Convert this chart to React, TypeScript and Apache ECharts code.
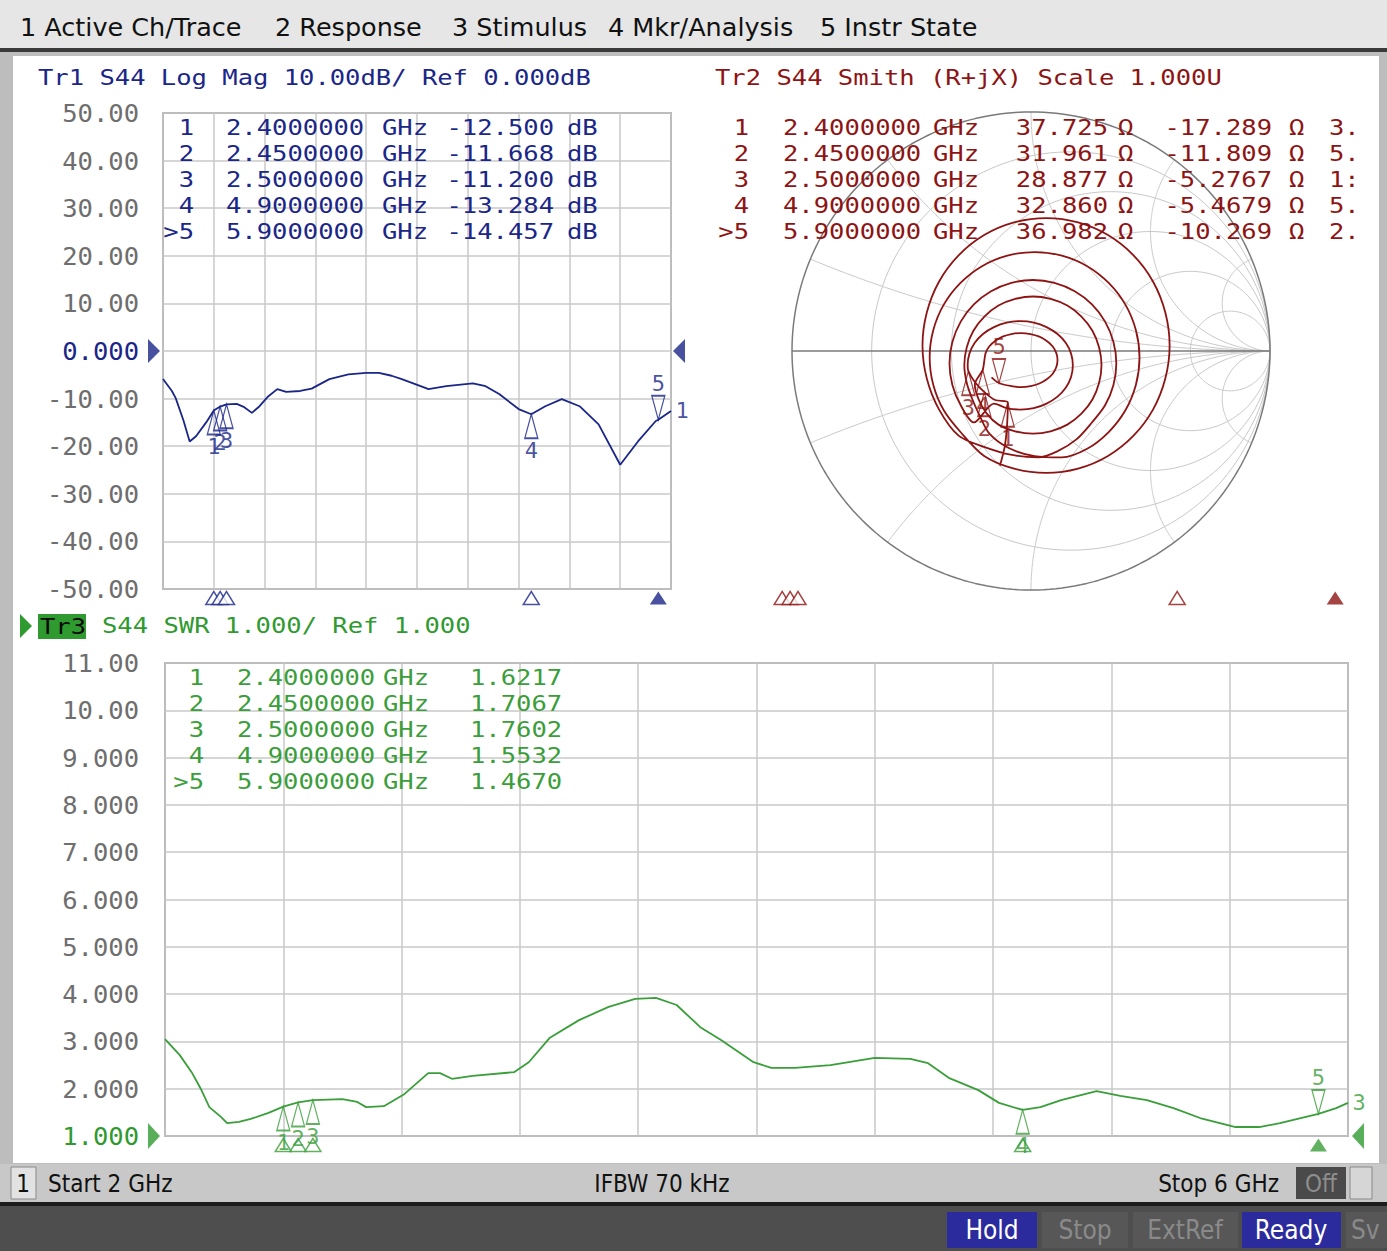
import React, { useEffect, useRef } from "react";
import * as echarts from "echarts";

const MONO = '"DejaVu Sans Mono", "Liberation Mono", monospace';
const SANS = '"DejaVu Sans", Verdana, sans-serif';
const COND = '"DejaVu Sans Condensed", "DejaVu Sans", sans-serif';

const BLUE = "#1a2688";
const RED = "#8e1414";
const GREEN = "#2f9a2f";
const LGREEN = "#3a9e3a";
const GRAY_TXT = "#6e6e6e";
const GRID_C = "#c8c8c8";
const BORDER_C = "#7c7c7c";

// ---- Tr1: S44 Log Mag (dB) vs frequency (GHz)
const lmFreq = [2.0, 2.07, 2.1, 2.16, 2.21, 2.26, 2.34, 2.4, 2.45, 2.5, 2.58, 2.64, 2.7, 2.76, 2.83, 2.9, 2.97, 3.08, 3.17, 3.31, 3.46, 3.6, 3.7, 3.8, 3.88, 4.06, 4.09, 4.23, 4.44, 4.54, 4.65, 4.8, 4.9, 5.01, 5.14, 5.28, 5.43, 5.6, 5.74, 5.88, 5.9, 6.0];
const lmDb = [-5.9, -8.4, -9.9, -14.5, -19.0, -17.9, -15.0, -12.5, -11.67, -11.2, -11.1, -11.8, -13.0, -11.6, -9.5, -8.0, -8.6, -8.4, -7.9, -5.9, -4.9, -4.6, -4.6, -5.2, -5.9, -7.7, -8.0, -7.4, -6.8, -7.4, -9.1, -12.2, -13.28, -11.6, -10.1, -11.6, -15.4, -23.9, -19.0, -14.7, -14.46, -12.6];

// ---- Tr3: S44 SWR vs frequency (GHz)
const swrFreq = [2.0, 2.05, 2.09, 2.12, 2.15, 2.19, 2.21, 2.25, 2.29, 2.35, 2.4, 2.45, 2.5, 2.6, 2.65, 2.68, 2.74, 2.81, 2.89, 2.93, 2.97, 3.04, 3.18, 3.23, 3.3, 3.4, 3.5, 3.59, 3.66, 3.73, 3.81, 3.88, 3.99, 4.05, 4.13, 4.25, 4.4, 4.52, 4.58, 4.65, 4.75, 4.82, 4.9, 4.96, 5.03, 5.15, 5.23, 5.32, 5.41, 5.5, 5.62, 5.7, 5.77, 5.84, 5.9, 5.96, 6.0];
const swrVal = [3.05, 2.71, 2.35, 2.01, 1.61, 1.4, 1.27, 1.3, 1.36, 1.49, 1.62, 1.71, 1.76, 1.78, 1.72, 1.61, 1.63, 1.89, 2.33, 2.33, 2.21, 2.27, 2.35, 2.56, 3.07, 3.45, 3.73, 3.9, 3.92, 3.77, 3.3, 3.03, 2.56, 2.44, 2.44, 2.5, 2.65, 2.63, 2.54, 2.23, 1.97, 1.7, 1.55, 1.61, 1.76, 1.95, 1.85, 1.76, 1.59, 1.38, 1.19, 1.19, 1.27, 1.38, 1.47, 1.59, 1.7];

const smGamma: number[][] = [
  [-0.13, -0.48], [-0.11, -0.4], [-0.1, -0.31],
  [-0.097, -0.216], [-0.15, -0.205], [-0.195, -0.172], [-0.235, -0.13], [-0.262, -0.084], [-0.265, -0.06],
  [-0.258, -0.012], [-0.236, 0.033], [-0.201, 0.071], [-0.155, 0.1], [-0.102, 0.119], [-0.045, 0.125],
  [0.012, 0.119], [0.065, 0.1], [0.111, 0.071], [0.146, 0.033], [0.168, -0.012], [0.175, -0.06],
  [0.168, -0.108], [0.146, -0.153], [0.111, -0.191], [0.065, -0.22], [0.012, -0.239], [-0.045, -0.245],
  [-0.102, -0.239], [-0.155, -0.22],
  [-0.239, -0.299], [-0.294, -0.227], [-0.329, -0.142], [-0.341, -0.052], [-0.329, 0.038], [-0.294, 0.123],
  [-0.239, 0.195], [-0.167, 0.25], [-0.082, 0.285], [0.008, 0.297], [0.098, 0.285], [0.183, 0.25],
  [0.255, 0.195], [0.31, 0.123], [0.345, 0.038], [0.357, -0.052], [0.345, -0.142], [0.31, -0.227],
  [0.255, -0.299], [0.19, -0.37], [0.11, -0.42], [0.03, -0.445], [-0.08, -0.435], [-0.2, -0.4],
  [-0.303, -0.354], [-0.385, -0.244], [-0.436, -0.115], [-0.454, 0.023], [-0.436, 0.161], [-0.385, 0.29],
  [-0.303, 0.4], [-0.196, 0.485], [-0.071, 0.538], [0.063, 0.556], [0.197, 0.538], [0.322, 0.485],
  [0.429, 0.4], [0.511, 0.29], [0.562, 0.161], [0.58, 0.023], [0.562, -0.115], [0.511, -0.244],
  [0.429, -0.354], [0.322, -0.439], [0.197, -0.492], [0.063, -0.51], [-0.071, -0.492], [-0.196, -0.439],
  [-0.295, -0.339], [-0.365, -0.248], [-0.409, -0.141], [-0.424, -0.027], [-0.409, 0.087], [-0.365, 0.194],
  [-0.295, 0.285], [-0.205, 0.355], [-0.099, 0.399], [0.015, 0.414], [0.129, 0.399], [0.235, 0.355],
  [0.325, 0.285], [0.395, 0.194], [0.439, 0.087], [0.454, -0.027], [0.439, -0.141], [0.395, -0.248],
  [0.325, -0.339], [0.235, -0.409], [0.129, -0.445], [0.015, -0.44], [-0.095, -0.405], [-0.175, -0.345],
  [-0.215, -0.27], [-0.245, -0.203], [-0.269, -0.133], [-0.279, -0.059], [-0.269, 0.015], [-0.241, 0.085],
  [-0.195, 0.144], [-0.136, 0.19], [-0.066, 0.218], [0.008, 0.228], [0.082, 0.218], [0.152, 0.19],
  [0.211, 0.144], [0.257, 0.085], [0.285, 0.015], [0.295, -0.059], [0.285, -0.133], [0.257, -0.203],
  [0.211, -0.262], [0.152, -0.308], [0.082, -0.336], [0.008, -0.346], [-0.066, -0.336], [-0.136, -0.308],
  [-0.185, -0.262], [-0.22, -0.2], [-0.235, -0.14],
  [-0.202, -0.079],
  [-0.195, -0.038], [-0.19, -0.009], [-0.175, 0.019], [-0.15, 0.042], [-0.119, 0.06], [-0.082, 0.071],
  [-0.042, 0.075], [-0.002, 0.071], [0.035, 0.06], [0.066, 0.042], [0.091, 0.019], [0.106, -0.009],
  [0.111, -0.038], [0.106, -0.067], [0.091, -0.095], [0.066, -0.118], [0.035, -0.136], [-0.002, -0.147],
  [-0.042, -0.151], [-0.082, -0.147], [-0.134, -0.134], [-0.165, -0.11],
];

// ---- Markers
const mkLabels = ["1", "2", "3", "4", ">5"];
const mkFreqTxt = ["2.4000000", "2.4500000", "2.5000000", "4.9000000", "5.9000000"];
const mkFreq = [2.4, 2.45, 2.5, 4.9, 5.9];
const mkDb = [-12.5, -11.668, -11.2, -13.284, -14.457];
const mkDbTxt = ["-12.500", "-11.668", "-11.200", "-13.284", "-14.457"];
const mkR = [37.725, 31.961, 28.877, 32.86, 36.982];
const mkRTxt = ["37.725", "31.961", "28.877", "32.860", "36.982"];
const mkX = [-17.289, -11.809, -5.2767, -5.4679, -10.269];
const mkXTxt = ["-17.289", "-11.809", "-5.2767", "-5.4679", "-10.269"];
const mkCut = ["3.", "5.", "1:", "5.", "2."];
const mkSwr = [1.6217, 1.7067, 1.7602, 1.5532, 1.467];
const mkSwrTxt = ["1.6217", "1.7067", "1.7602", "1.5532", "1.4670"];

const menuItems = ["1 Active Ch/Trace", "2 Response", "3 Stimulus", "4 Mkr/Analysis", "5 Instr State"];
const menuX = [20, 275, 452, 608, 820];

const Z0 = 50;
function gammaOf(r: number, x: number): [number, number] {
  const d = (r + 1) * (r + 1) + x * x;
  return [(r * r + x * x - 1) / d, (2 * x) / d];
}

const UP = "path://M7,0L14,24L0,24Z";
const DOWN = "path://M0,0L14,0L7,24Z";

function markerSeries(xi: number, yi: number, pts: number[][], color: string) {
  const lab = { show: true, formatter: "{b}", color, fontFamily: MONO, fontSize: 22 };
  return [
    {
      type: "scatter", xAxisIndex: xi, yAxisIndex: yi, silent: true, z: 6, clip: false,
      data: pts.slice(0, 4).map((p, i) => ({ value: p, name: String(i + 1) })),
      symbol: UP, symbolSize: [13, 24], symbolOffset: [0, 12],
      itemStyle: { color: "rgba(255,255,255,0)", borderColor: color, borderWidth: 1.5 },
      label: { ...lab, position: "bottom", distance: 0 },
    },
    {
      type: "scatter", xAxisIndex: xi, yAxisIndex: yi, silent: true, z: 6, clip: false,
      data: [{ value: pts[4], name: "5" }],
      symbol: DOWN, symbolSize: [13, 24], symbolOffset: [0, -12],
      itemStyle: { color: "rgba(255,255,255,0)", borderColor: color, borderWidth: 1.5 },
      label: { ...lab, position: "top", distance: 0 },
    },
  ];
}

function indicatorSeries(xi: number, yi: number, color: string) {
  return [
    {
      type: "scatter", xAxisIndex: xi, yAxisIndex: yi, silent: true,
      data: mkFreq.slice(0, 4).map((f) => [f, 0.5]),
      symbol: "triangle", symbolSize: [16, 13],
      itemStyle: { color: "#ffffff", borderColor: color, borderWidth: 1.5 },
    },
    {
      type: "scatter", xAxisIndex: xi, yAxisIndex: yi, silent: true,
      data: [[mkFreq[4], 0.5]],
      symbol: "triangle", symbolSize: [17, 13],
      itemStyle: { color },
    },
  ];
}

function refSeries(xi: number, yi: number, yv: number, color: string, h: number, offL: number, offR: number) {
  return [
    {
      type: "scatter", xAxisIndex: xi, yAxisIndex: yi, silent: true, clip: false,
      data: [[2, yv]], symbol: "path://M0,0L12,12L0,24Z", symbolSize: [12, h], symbolOffset: [offL, 0],
      itemStyle: { color },
    },
    {
      type: "scatter", xAxisIndex: xi, yAxisIndex: yi, silent: true, clip: false,
      data: [[6, yv]], symbol: "path://M12,0L0,12L12,24Z", symbolSize: [12, h], symbolOffset: [offR, 0],
      itemStyle: { color },
    },
  ];
}

function endLabel(xi: number, yi: number, p: number[], text: string, color: string) {
  return {
    type: "scatter", xAxisIndex: xi, yAxisIndex: yi, silent: true, clip: false,
    data: [{ value: p, name: text }], symbolSize: 1, itemStyle: { color: "rgba(0,0,0,0)" },
    label: { show: true, position: "right", distance: 4, formatter: "{b}", color, fontFamily: MONO, fontSize: 22 },
  };
}

function smithGridSeries() {
  const out: any[] = [];
  const mk = (pts: number[][], color: string, width: number) => ({
    type: "line", xAxisIndex: 1, yAxisIndex: 1, data: pts, symbol: "none", silent: true, z: 1,
    lineStyle: { color, width }, clip: false,
  });
  [0.2, 0.5, 1, 2, 5].forEach((r) => {
    const c = r / (r + 1), rad = 1 / (r + 1);
    const pts: number[][] = [];
    for (let k = 0; k <= 180; k++) {
      const a = (k / 180) * 2 * Math.PI;
      pts.push([c + rad * Math.cos(a), rad * Math.sin(a)]);
    }
    out.push(mk(pts, GRID_C, 1));
  });
  [0.2, 0.5, 1, 2, 5, -0.2, -0.5, -1, -2, -5].forEach((x) => {
    const pts: number[][] = [];
    for (let k = 0; k <= 200; k++) {
      const s = (k / 200) * 0.995;
      pts.push(gammaOf(s / (1 - s), x));
    }
    pts.push([1, 0]);
    out.push(mk(pts, GRID_C, 1));
  });
  const circ: number[][] = [];
  for (let k = 0; k <= 240; k++) {
    const a = (k / 240) * 2 * Math.PI;
    circ.push([Math.cos(a), Math.sin(a)]);
  }
  out.push(mk(circ, "#7a7a7a", 1.5));
  out.push(mk([[-1, 0], [1, 0]], "#7a7a7a", 1.5));
  return out;
}

function App() {
  const ref = useRef<HTMLDivElement>(null);
  useEffect(() => {
    if (!ref.current) return;
    const chart = echarts.init(ref.current, undefined, { renderer: "svg" });

    const lmPts = lmFreq.map((f, i) => [f, lmDb[i]]);
    const swrPts = swrFreq.map((f, i) => [f, swrVal[i]]);
    const mkLM = mkFreq.map((f, i) => [f, mkDb[i]]);
    const mkSW = mkFreq.map((f, i) => [f, mkSwr[i]]);
    const mkSM = mkR.map((r, i) => gammaOf(r / Z0, mkX[i] / Z0));

    const hiddenX = (g: number) => ({ gridIndex: g, type: "value", min: 2, max: 6, show: false });
    const hiddenY = (g: number) => ({ gridIndex: g, type: "value", min: 0, max: 1, show: false });
    const split = { show: true, lineStyle: { color: GRID_C, width: 1.5 } };

    const T = (x: number, y: number, text: string, fill: string, font: string, align = "left", z = 50, sx = 1) => ({
      type: "text", x, y, z, silent: true, scaleX: sx,
      style: { text, fill, font, textAlign: align, align, textVerticalAlign: "middle", verticalAlign: "middle" },
    });
    const R = (x: number, y: number, w: number, h: number, fill: string, stroke?: string, z = -50) => ({
      type: "rect", z, silent: true, shape: { x, y, width: w, height: h },
      style: { fill, stroke: stroke || null, lineWidth: stroke ? 1 : 0 },
    });

    const FM = `22px ${MONO}`;
    const SX = 1.16;
    const M = (x: number, y: number, text: string, fill: string, align = "left") => T(x, y, text, fill, FM, align, 50, SX);
    const rowsTop = [128, 154, 180, 206, 232];
    const rowsBot = [678, 704, 730, 756, 782];

    const graphic: any[] = [
      R(0, 0, 1387, 1251, "#bdbdbd", undefined, -60),
      R(0, 0, 1387, 48, "#e6e6e6"),
      R(0, 48, 1387, 4, "#3a3a3a"),
      R(13, 56, 1366, 1107, "#ffffff"),
      R(0, 1164, 1387, 38, "#c8c8c8"),
      R(11, 1167, 25, 32, "#e2e2e2", "#8a8a8a"),
      R(1296, 1167, 50, 32, "#4a4a4a"),
      R(1350, 1167, 22, 32, "#d6d6d6", "#8a8a8a"),
      R(0, 1202, 1387, 4, "#1c1c1c"),
      R(0, 1206, 1387, 45, "#4e4e4e"),
      R(947, 1212, 90, 36, "#2b2b9e"),
      R(1042, 1212, 86, 36, "#575757"),
      R(1133, 1212, 105, 36, "#575757"),
      R(1242, 1212, 99, 36, "#2b2b9e"),
      R(1346, 1212, 45, 36, "#575757"),
      R(38, 614, 48, 25, "#2f9a2f", undefined, 40),
      { type: "polygon", z: 40, silent: true, shape: { points: [[20, 614], [32, 626], [20, 638]] }, style: { fill: GREEN } },
    ];
    menuItems.forEach((m, i) => graphic.push(T(menuX[i], 27, m, "#111111", `25.5px ${SANS}`)));

    graphic.push(M(38, 78, "Tr1 S44 Log Mag 10.00dB/ Ref 0.000dB", BLUE));
    graphic.push(M(715, 78, "Tr2 S44 Smith (R+jX) Scale 1.000U", RED));
    graphic.push(T(40, 627, "Tr3", "#0a0a0a", FM, "left", 45, SX));
    graphic.push(M(102, 626, "S44 SWR 1.000/ Ref 1.000", GREEN));

    for (let i = 0; i < 5; i++) {
      const y = rowsTop[i];
      graphic.push(M(194, y, mkLabels[i], BLUE, "right"));
      graphic.push(M(226, y, mkFreqTxt[i], BLUE));
      graphic.push(M(382, y, "GHz", BLUE));
      graphic.push(M(554, y, mkDbTxt[i], BLUE, "right"));
      graphic.push(M(567, y, "dB", BLUE));

      graphic.push(M(749, y, mkLabels[i], RED, "right"));
      graphic.push(M(783, y, mkFreqTxt[i], RED));
      graphic.push(M(933, y, "GHz", RED));
      graphic.push(M(1108, y, mkRTxt[i], RED, "right"));
      graphic.push(M(1118, y, "\u03a9", RED));
      graphic.push(M(1272, y, mkXTxt[i], RED, "right"));
      graphic.push(M(1289, y, "\u03a9", RED));
      graphic.push(M(1329, y, mkCut[i], RED));

      const yb = rowsBot[i];
      graphic.push(M(204, yb, mkLabels[i], LGREEN, "right"));
      graphic.push(M(237, yb, mkFreqTxt[i], LGREEN));
      graphic.push(M(383, yb, "GHz", LGREEN));
      graphic.push(M(470, yb, mkSwrTxt[i], LGREEN));
    }

    const FS = `24px ${COND}`;
    graphic.push(T(23, 1184, "1", "#111111", FS, "center"));
    graphic.push(T(48, 1184, "Start 2 GHz", "#111111", FS));
    graphic.push(T(662, 1184, "IFBW 70 kHz", "#111111", FS, "center"));
    graphic.push(T(1279, 1184, "Stop 6 GHz", "#111111", FS, "right"));
    graphic.push(T(1321, 1184, "Off", "#8e8e8e", FS, "center"));
    const FB = `26px ${COND}`;
    graphic.push(T(992, 1230, "Hold", "#ffffff", FB, "center"));
    graphic.push(T(1085, 1230, "Stop", "#8a8a8a", FB, "center"));
    graphic.push(T(1185, 1230, "ExtRef", "#8a8a8a", FB, "center"));
    graphic.push(T(1291, 1230, "Ready", "#ffffff", FB, "center"));
    graphic.push(T(1351, 1230, "Sv", "#8a8a8a", FB));

    const option: any = {
      animation: false,
      backgroundColor: "#bdbdbd",
      grid: [
        { left: 163, top: 113, width: 508, height: 476, show: true, borderColor: BORDER_C, borderWidth: 1.5, backgroundColor: "rgba(0,0,0,0)" },
        { left: 792, top: 112, width: 478, height: 478 },
        { left: 165, top: 663, width: 1183, height: 473, show: true, borderColor: BORDER_C, borderWidth: 1.5, backgroundColor: "rgba(0,0,0,0)" },
        { left: 163, top: 590, width: 508, height: 16 },
        { left: 719, top: 590, width: 632, height: 16 },
        { left: 165, top: 1137, width: 1183, height: 16 },
      ],
      xAxis: [
        { gridIndex: 0, type: "value", min: 2, max: 6, interval: 0.4, axisLabel: { show: false }, axisTick: { show: false }, axisLine: { show: false }, splitLine: split },
        { gridIndex: 1, type: "value", min: -1, max: 1, show: false },
        { gridIndex: 2, type: "value", min: 2, max: 6, interval: 0.4, axisLabel: { show: false }, axisTick: { show: false }, axisLine: { show: false }, splitLine: split },
        hiddenX(3), hiddenX(4), hiddenX(5),
      ],
      yAxis: [
        {
          gridIndex: 0, type: "value", min: -50, max: 50, interval: 10,
          axisLine: { show: false }, axisTick: { show: false }, splitLine: split,
          axisLabel: {
            margin: 24, fontFamily: MONO, fontSize: 25.5,
            formatter: (v: number) => (v === 0 ? "0.000" : v.toFixed(2)),
            color: (v: any) => (Number(v) === 0 ? BLUE : GRAY_TXT),
          },
        },
        { gridIndex: 1, type: "value", min: -1, max: 1, show: false },
        {
          gridIndex: 2, type: "value", min: 1, max: 11, interval: 1,
          axisLine: { show: false }, axisTick: { show: false }, splitLine: split,
          axisLabel: {
            margin: 26, fontFamily: MONO, fontSize: 25.5,
            formatter: (v: number) => (v >= 10 ? v.toFixed(2) : v.toFixed(3)),
            color: (v: any) => (Number(v) === 1 ? GREEN : GRAY_TXT),
          },
        },
        hiddenY(3), hiddenY(4), hiddenY(5),
      ],
      series: [
        ...smithGridSeries(),
        { type: "line", xAxisIndex: 0, yAxisIndex: 0, data: lmPts, symbol: "none", silent: true, z: 5, lineStyle: { color: BLUE, width: 1.8 } },
        ...markerSeries(0, 0, mkLM, BLUE),
        ...refSeries(0, 0, 0, BLUE, 24, -9, 8),
        endLabel(0, 0, lmPts[lmPts.length - 1], "1", BLUE),
        { type: "line", xAxisIndex: 1, yAxisIndex: 1, data: smGamma, symbol: "none", silent: true, z: 5, smooth: 0.3, lineStyle: { color: RED, width: 1.8 } },
        ...markerSeries(1, 1, mkSM, RED),
        { type: "line", xAxisIndex: 2, yAxisIndex: 2, data: swrPts, symbol: "none", silent: true, z: 5, lineStyle: { color: LGREEN, width: 1.8 } },
        ...markerSeries(2, 2, mkSW, LGREEN),
        ...refSeries(2, 2, 1, GREEN, 26, -11, 10),
        endLabel(2, 2, swrPts[swrPts.length - 1], "3", LGREEN),
        ...indicatorSeries(3, 3, BLUE),
        ...indicatorSeries(4, 4, RED),
        ...indicatorSeries(5, 5, LGREEN),
      ],
      graphic,
    };
    chart.setOption(option);
    return () => chart.dispose();
  }, []);
  return <div ref={ref} style={{ position: "absolute", left: 0, top: 0, width: 1387, height: 1251 }} />;
}

export default App;
